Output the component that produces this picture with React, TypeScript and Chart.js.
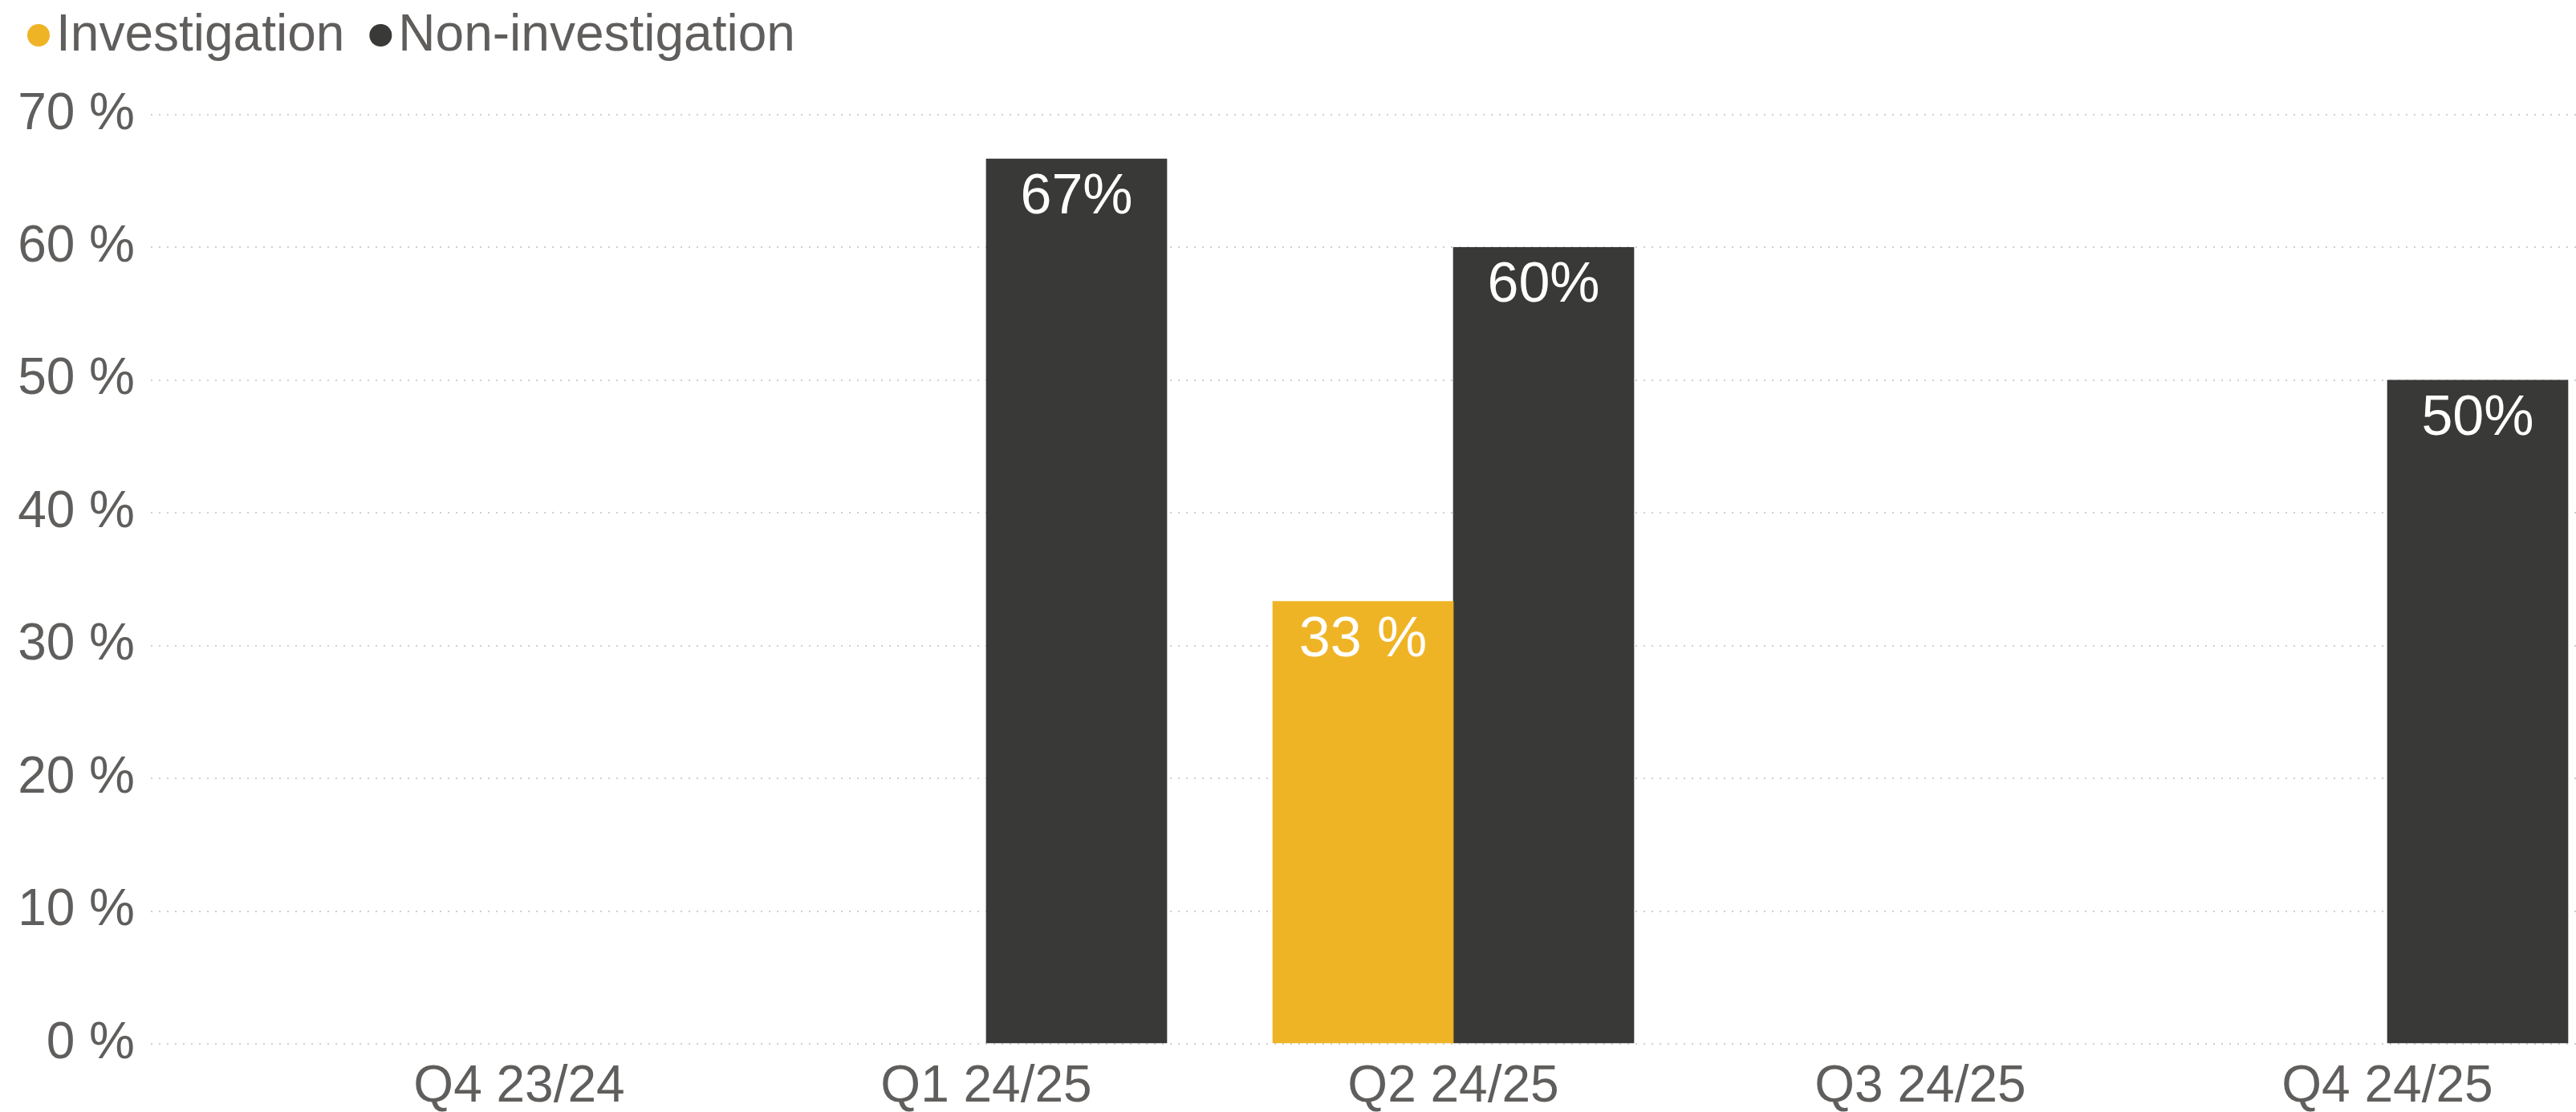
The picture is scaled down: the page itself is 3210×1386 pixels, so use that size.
import React, { useEffect, useRef } from 'react';
import { Chart, registerables } from 'chart.js';

Chart.register(...registerables);

// ---- data ----
const categories: string[] = ['Q4 23/24', 'Q1 24/25', 'Q2 24/25', 'Q3 24/25', 'Q4 24/25'];
const investigation: (number | null)[] = [null, null, 33.33, null, null];
const nonInvestigation: (number | null)[] = [null, 66.67, 60, null, 50];
const seriesNames: string[] = ['Investigation', 'Non-investigation'];
const labelSuffixes: string[] = [' %', '%'];
const yTickSuffix = ' %';

// ---- styles ----
const FONT = "'Liberation Sans', Arial, sans-serif";
const TEXT = '#605E5C';
const COLORS = ['#EFB426', '#393A37'];

const legendPlugin = {
  id: 'customLegend',
  afterDraw(chart: any) {
    const ctx = chart.ctx as CanvasRenderingContext2D;
    ctx.save();
    ctx.font = `64px ${FONT}`;
    ctx.textAlign = 'left';
    ctx.textBaseline = 'alphabetic';
    let x = 34;
    chart.data.datasets.forEach((ds: any) => {
      ctx.fillStyle = ds.backgroundColor;
      ctx.beginPath();
      ctx.arc(x + 14, 44, 14, 0, Math.PI * 2);
      ctx.fill();
      ctx.fillStyle = TEXT;
      ctx.fillText(ds.label, x + 36, 63);
      x += 36 + ctx.measureText(ds.label).width + 31;
    });
    ctx.restore();
  },
};

const dataLabelPlugin = {
  id: 'barValueLabels',
  afterDatasetsDraw(chart: any) {
    const ctx = chart.ctx as CanvasRenderingContext2D;
    ctx.save();
    ctx.font = `70px ${FONT}`;
    ctx.fillStyle = '#FFFFFF';
    ctx.textAlign = 'center';
    ctx.textBaseline = 'alphabetic';
    chart.data.datasets.forEach((ds: any, di: number) => {
      const meta = chart.getDatasetMeta(di);
      meta.data.forEach((el: any, i: number) => {
        const pt = ds.data[i];
        if (!pt || pt.y === null || pt.y === undefined) return;
        const txt = `${Math.round(pt.y)}${labelSuffixes[di]}`;
        ctx.fillText(txt, el.x, el.y + 68);
      });
    });
    ctx.restore();
  },
};

export default function App() {
  const canvasRef = useRef<HTMLCanvasElement | null>(null);

  useEffect(() => {
    document.documentElement.style.overflow = 'hidden';
    document.body.style.margin = '0';
    const canvas = canvasRef.current;
    if (!canvas) return;
    const series = [investigation, nonInvestigation];
    const chart = new Chart(canvas, {
      type: 'bar',
      data: {
        datasets: series.map((vals, si) => ({
          label: seriesNames[si],
          data: categories.map((_, i) => ({ x: i, y: vals[i] })),
          backgroundColor: COLORS[si],
          borderWidth: 0,
          barThickness: 225,
        })) as any,
      },
      options: {
        animation: false,
        responsive: false,
        devicePixelRatio: 1,
        layout: { padding: { top: 143, left: 22, right: 0, bottom: 0 } },
        plugins: {
          legend: { display: false },
          tooltip: { enabled: false },
        },
        scales: {
          x: {
            type: 'linear',
            bounds: 'data',
            offset: false,
            min: -0.7887,
            max: 4.4038,
            grid: { display: false, drawTicks: false, offset: false },
            border: { display: false },
            afterBuildTicks: (scale: any) => {
              scale.ticks = categories.map((_, i) => ({ value: i }));
            },
            afterFit: (scale: any) => {
              scale.height = 85;
            },
            ticks: {
              autoSkip: false,
              maxRotation: 0,
              minRotation: 0,
              padding: 22,
              color: TEXT,
              font: { family: FONT, size: 64, lineHeight: 1 },
              callback: (v: any) => categories[Math.round(v as number)] ?? '',
            },
          },
          y: {
            min: 0,
            max: 70,
            grid: { color: '#CFCFCF', lineWidth: 2, drawTicks: false },
            border: { display: false, dash: [2, 8] },
            afterFit: (scale: any) => {
              scale.width = 166;
            },
            ticks: {
              stepSize: 10,
              padding: 20,
              color: TEXT,
              font: { family: FONT, size: 64, lineHeight: 1 },
              callback: (v: any) => `${v}${yTickSuffix}`,
            },
          },
        },
      } as any,
      plugins: [legendPlugin, dataLabelPlugin],
    });
    return () => chart.destroy();
  }, []);

  return (
    <div style={{ position: 'absolute', left: 0, top: 0, width: 3210, height: 1386, background: '#FFFFFF' }}>
      <canvas ref={canvasRef} width={3210} height={1386} style={{ display: 'block' }} />
    </div>
  );
}
